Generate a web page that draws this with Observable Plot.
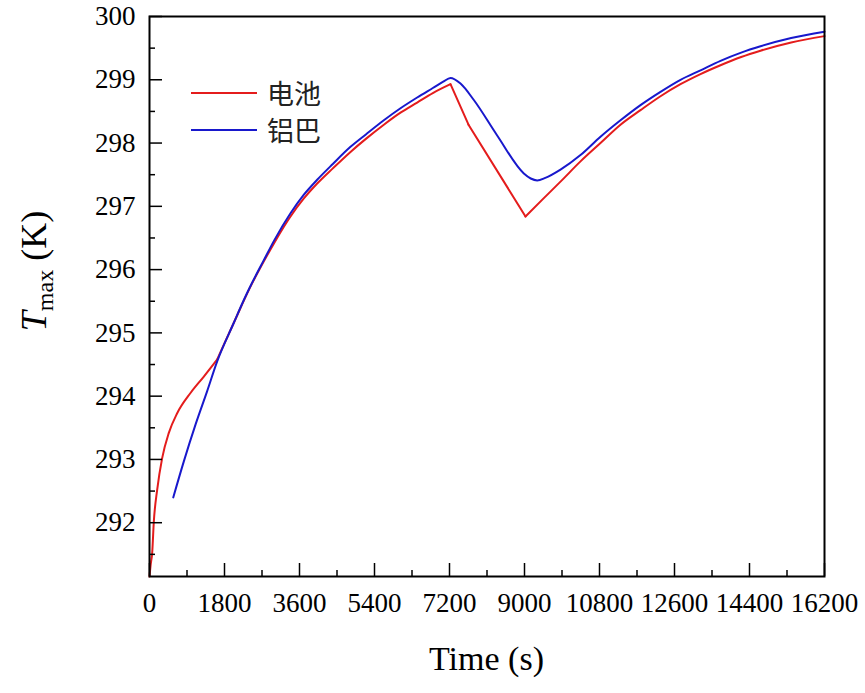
<!DOCTYPE html>
<html>
<head>
<meta charset="utf-8">
<script src="https://cdn.jsdelivr.net/npm/d3@7"></script>
<script src="https://cdn.jsdelivr.net/npm/@observablehq/plot@0.6"></script>
<style>
  body { margin: 0; background: #fff; }
  #wrap { position: relative; width: 865px; height: 693px; font-family: "Liberation Serif", "DejaVu Serif", serif; }
  #legend { position: absolute; left: 191px; top: 74px; font-family: "Noto Sans CJK SC", sans-serif; font-size: 27px; color: #222; }
  .row { display: flex; align-items: center; height: 37px; }
  .sw { width: 66px; height: 2px; margin-right: 10px; }
</style>
</head>
<body>
<div id="wrap"><div id="legend"></div></div>
<script>
// Series: 电池 (battery)
const batteryTime = [0, 30, 64, 104, 184, 304, 464, 664, 984, 1304, 1624, 2024, 2400, 2744, 3000, 3384, 3700, 4024, 4400, 4824, 5200, 5624, 6024, 6424, 6800, 7224, 7656, 9024, 9464, 9864, 10344, 10824, 11304, 11784, 12264, 12744, 13224, 13704, 14200, 14664, 15400, 16200];
const batteryTemp = [291.15, 291.35, 291.52, 292.02, 292.52, 293.02, 293.42, 293.73, 294.05, 294.31, 294.58, 295.16, 295.70, 296.13, 296.43, 296.84, 297.12, 297.36, 297.60, 297.86, 298.07, 298.29, 298.48, 298.64, 298.79, 298.93, 298.29, 296.84, 297.13, 297.39, 297.71, 298.00, 298.29, 298.52, 298.74, 298.93, 299.09, 299.23, 299.36, 299.46, 299.59, 299.69];
// kinks of the 电池 curve (where its slope changes abruptly)
const batteryKinks = [1624, 7224, 7656, 9024];
// Series: 铝巴 (aluminium busbar)
const busbarTime = [570, 824, 1104, 1384, 1624, 2024, 2264, 2400, 2744, 3000, 3384, 3700, 4024, 4400, 4824, 5200, 5624, 6024, 6424, 6800, 7050, 7224, 7464, 7784, 8344, 8984, 9150, 9304, 9500, 9864, 10344, 10824, 11304, 11784, 12264, 12744, 13224, 13704, 14200, 14664, 15400, 16200];
const busbarTemp = [292.40, 292.97, 293.55, 294.08, 294.55, 295.16, 295.52, 295.71, 296.15, 296.47, 296.89, 297.18, 297.42, 297.67, 297.94, 298.14, 298.36, 298.55, 298.72, 298.87, 298.97, 299.03, 298.94, 298.68, 298.12, 297.52, 297.44, 297.41, 297.45, 297.58, 297.81, 298.10, 298.36, 298.60, 298.81, 299.00, 299.15, 299.30, 299.43, 299.53, 299.66, 299.76];

const seriesNames = ["电池", "铝巴"];
const seriesColors = ["#e41c1c", "#1818cc"];

const xTicks = [0, 1800, 3600, 5400, 7200, 9000, 10800, 12600, 14400, 16200];
const xMinorTicks = [900, 2700, 4500, 6300, 8100, 9900, 11700, 13500, 15300];
const yTicks = [292, 293, 294, 295, 296, 297, 298, 299, 300];
const yMinorTicks = [291.5, 292.5, 293.5, 294.5, 295.5, 296.5, 297.5, 298.5, 299.5];
const xTitle = "Time (s)";

// split the battery curve into smooth pieces at its kinks
const batteryRows = [];
let part = 0;
batteryTime.forEach((t, i) => {
  batteryRows.push({t, v: batteryTemp[i], part});
  if (batteryKinks.includes(t)) { part++; batteryRows.push({t, v: batteryTemp[i], part}); }
});
const busbarRows = busbarTime.map((t, i) => ({t, v: busbarTemp[i]}));

const fmt = d => String(d);
const serif = '"Liberation Serif", "DejaVu Serif", serif';

const plot = Plot.plot({
  width: 865,
  height: 693,
  marginLeft: 149,
  marginRight: 41,
  marginTop: 16,
  marginBottom: 117,
  style: {fontFamily: serif, fontSize: "27px", color: "#000", background: "#fff"},
  x: {domain: [0, 16200]},
  y: {domain: [291.15, 300]},
  marks: [
    Plot.line(batteryRows, {x: "t", y: "v", z: "part", stroke: seriesColors[0], strokeWidth: 2, curve: "monotone-x"}),
    Plot.line(busbarRows, {x: "t", y: "v", stroke: seriesColors[1], strokeWidth: 2, curve: "monotone-x"}),
    Plot.axisX(xTicks, {tickSize: -13, text: null, label: null, strokeWidth: 1.5}),
    Plot.axisX(xMinorTicks, {tickSize: -6, text: null, label: null, strokeWidth: 1.5}),
    Plot.axisX(xTicks, {tickSize: 0, tickPadding: 16, label: null, tickFormat: fmt, fontSize: 27}),
    Plot.axisY(yTicks, {tickSize: -13, text: null, label: null, strokeWidth: 1.5}),
    Plot.axisY(yMinorTicks, {tickSize: -6, text: null, label: null, strokeWidth: 1.5}),
    Plot.axisY(yTicks, {tickSize: 0, tickPadding: 14, label: null, tickFormat: fmt, fontSize: 27}),
    Plot.frame({stroke: "#000", strokeWidth: 2})
  ]
});

document.getElementById("wrap").prepend(plot);

// Axis titles
const svg = d3.select(plot);
const xr = plot.scale("x").range;
const yr = plot.scale("y").range;
svg.append("text")
  .attr("x", (xr[0] + xr[1]) / 2)
  .attr("y", 670)
  .attr("text-anchor", "middle")
  .attr("font-size", 34)
  .attr("fill", "#000")
  .text(xTitle);

const yl = svg.append("text")
  .attr("transform", `translate(46, ${(yr[0] + yr[1]) / 2 - 25}) rotate(-90)`)
  .attr("text-anchor", "middle")
  .attr("font-size", 36)
  .attr("fill", "#000");
yl.append("tspan").attr("font-style", "italic").text("T");
yl.append("tspan").attr("font-size", 24).attr("dy", 7).text("max");
yl.append("tspan").attr("dy", -7).text(" (K)");

svg.selectAll("text").style("font-family", serif);

// Legend
const legend = d3.select("#legend");
seriesNames.forEach((name, i) => {
  const row = legend.append("div").attr("class", "row");
  row.append("div").attr("class", "sw").style("background", seriesColors[i]);
  row.append("span").text(name);
});
</script>
</body>
</html>
